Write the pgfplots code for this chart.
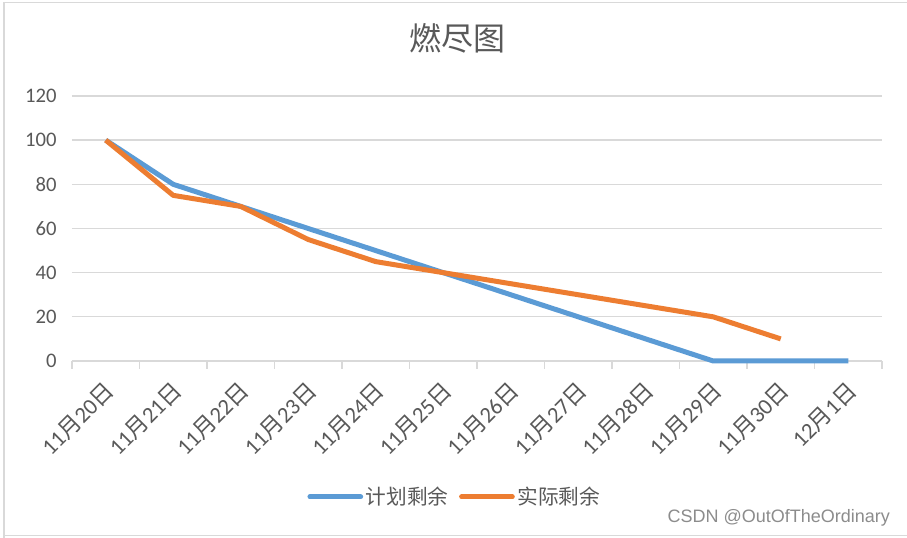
\documentclass[border=0pt]{standalone}
\usepackage{pgfplots}
\pgfplotsset{compat=1.18}
\usepackage{fontspec}
\setmainfont{Carlito}
\newfontfamily\cjk{Noto Sans CJK SC}
\newfontfamily\wm{Liberation Sans}
\definecolor{txt}{HTML}{595959}
\definecolor{gridc}{HTML}{D9D9D9}
\definecolor{pblue}{HTML}{5B9BD5}
\definecolor{porange}{HTML}{ED7D31}
\begin{document}
\begin{tikzpicture}
\useasboundingbox (0,0) rectangle (680.25pt,403.5pt);
\fill[white] (0,0) rectangle (680.25pt,403.5pt);
\draw[gridc, line width=1pt] (3pt,0pt) -- (3pt,401.5pt) -- (680.25pt,401.5pt);
\draw[gridc, line width=1pt] (3pt,2pt) -- (680.25pt,2pt);
\node[font=\cjk\fontsize{24}{24}\selectfont, text=txt] at (343pt,375pt) {燃尽图};
\begin{axis}[
  at={(54pt,132.75pt)}, anchor=south west,
  width=607.5pt, height=198.75pt, scale only axis,
  xmin=-0.5, xmax=11.5, ymin=0, ymax=120,
  clip=false,
  axis line style={draw=none},
  ytick={0,20,...,120},
  xtick={0,...,11},
  xticklabels={{11{\cjk 月}20{\cjk 日}},{11{\cjk 月}21{\cjk 日}},{11{\cjk 月}22{\cjk 日}},{11{\cjk 月}23{\cjk 日}},{11{\cjk 月}24{\cjk 日}},{11{\cjk 月}25{\cjk 日}},{11{\cjk 月}26{\cjk 日}},{11{\cjk 月}27{\cjk 日}},{11{\cjk 月}28{\cjk 日}},{11{\cjk 月}29{\cjk 日}},{11{\cjk 月}30{\cjk 日}},{12{\cjk 月}1{\cjk 日}}},
  minor xtick={-0.5,0.5,...,11.5},
  xtick pos=bottom, ytick pos=left,
  major tick length=0pt,
  minor tick length=6pt,
  tick align=outside,
  minor tick style={gridc, line width=1pt},
  ymajorgrids,
  major grid style={gridc, line width=1pt},
  /pgf/number format/assume math mode=true,
  yticklabel style={font=\fontsize{15.5}{15.5}\selectfont, text=txt, xshift=-8pt},
  xticklabel style={font=\fontsize{17}{17}\selectfont, text=txt, rotate=45, anchor=north east, xshift=-7.7pt, yshift=-4.8pt},
  legend columns=2,
  legend style={at={(0.473,-0.513)}, anchor=center, draw=none, fill=none,
    font=\cjk\fontsize{15.5}{15.5}\selectfont, text=txt,
    /tikz/every even column/.append style={column sep=6pt}},
  legend image code/.code={\draw[#1, line cap=round] (0pt,0pt) -- (38pt,0pt);},
]
\addplot[pblue, line width=3.75pt, line join=round] coordinates {
(0,100) (1,80) (2,70) (3,60) (4,50) (5,40) (6,30) (7,20) (8,10) (9,0) (10,0) (11,0)};
\addlegendentry{计划剩余}
\addplot[porange, line width=3.75pt, line join=round] coordinates {
(0,100) (1,75) (2,70) (3,55) (4,45) (5,40) (6,35) (7,30) (8,25) (9,20) (10,10)};
\addlegendentry{实际剩余}
\end{axis}
\node[font=\wm\fontsize{13.5}{13.5}\selectfont, text=black!45, anchor=east] at (671pt,15pt) {CSDN @OutOfTheOrdinary};
\end{tikzpicture}
\end{document}
